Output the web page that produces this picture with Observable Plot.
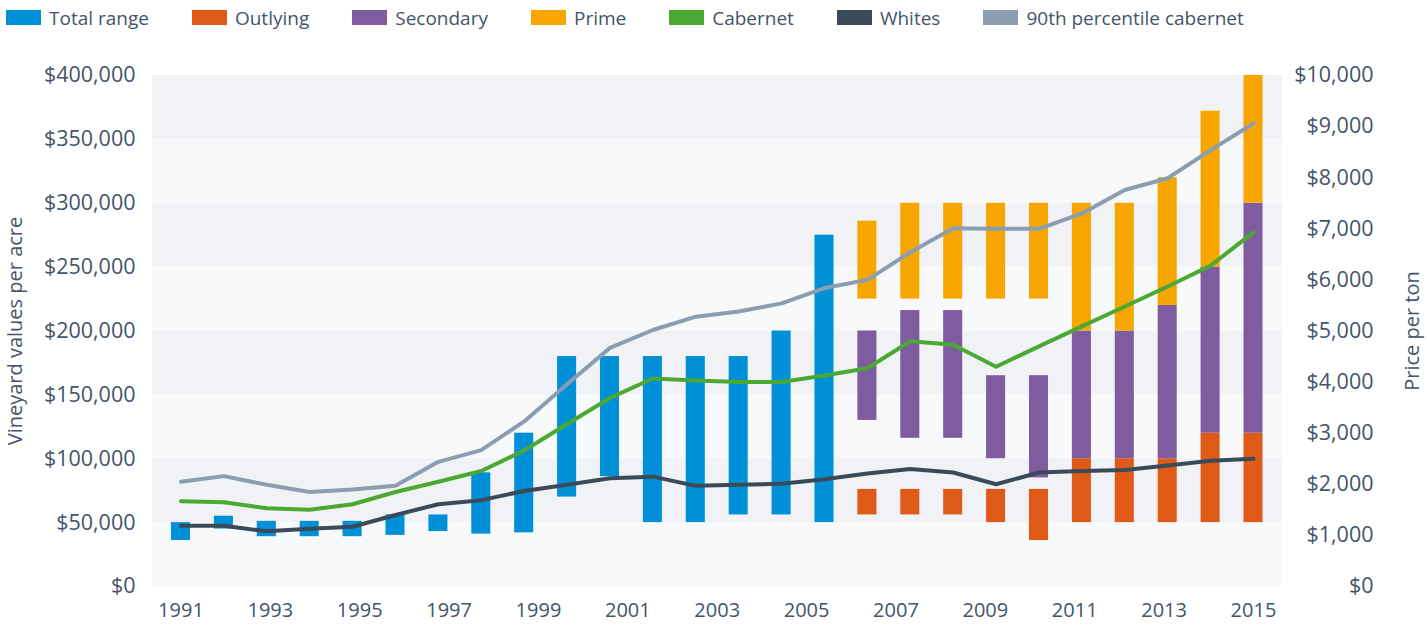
<!DOCTYPE html>
<html><head><meta charset="utf-8">
<script src="https://cdn.jsdelivr.net/npm/d3@7"></script>
<script src="https://cdn.jsdelivr.net/npm/@observablehq/plot@0.6"></script>
<style>
body{margin:0;background:#fff;font-family:"Open Sans",sans-serif;color:#44546a;}
#legend{display:flex;height:35px;align-items:center;padding-left:6px;font-size:19px;white-space:nowrap;}
.item{display:flex;align-items:center;margin-right:43px;}
.sw{width:35px;height:15px;margin-right:8px;}
</style></head><body>
<div id="legend"></div><div id="chart"></div>
<script>
// ---- data ----
const periods = [0,1,2,3,4,5,6,7,8,9,10,11,12,13,14,15,16,17,18,19,20,21,22,23,24,25];
const xLabels = [1991,1993,1995,1997,1999,2001,2003,2005,2007,2009,2011,2013,2015];
// vineyard values per acre ($) — floating ranges
const totalLow  = [36000,45000,39000,39000,39000,40000,43000,41000,42000,70000,86000,50000,50000,56000,56000,50000,null,null,null,null,null,null,null,null,null,null];
const totalHigh = [50000,55000,51000,51000,51000,56000,56000,89000,120000,180000,180000,180000,180000,180000,200000,275000,null,null,null,null,null,null,null,null,null,null];
const outLow  = [null,null,null,null,null,null,null,null,null,null,null,null,null,null,null,null,56000,56000,56000,50000,36000,50000,50000,50000,50000,50000];
const outHigh = [null,null,null,null,null,null,null,null,null,null,null,null,null,null,null,null,76000,76000,76000,76000,76000,100000,100000,100000,120000,120000];
const secLow  = [null,null,null,null,null,null,null,null,null,null,null,null,null,null,null,null,130000,116000,116000,100000,85000,100000,100000,100000,120000,120000];
const secHigh = [null,null,null,null,null,null,null,null,null,null,null,null,null,null,null,null,200000,216000,216000,165000,165000,200000,200000,220000,250000,300000];
const primeLow  = [null,null,null,null,null,null,null,null,null,null,null,null,null,null,null,null,225000,225000,225000,225000,225000,200000,200000,220000,250000,300000];
const primeHigh = [null,null,null,null,null,null,null,null,null,null,null,null,null,null,null,null,286000,300000,300000,300000,300000,300000,300000,320000,372000,400000];
// price per ton ($)
const cabernet = [1670,1650,1530,1500,1610,1850,2050,2260,2660,3180,3690,4070,4030,4000,4000,4130,4270,4800,4730,4300,4700,5090,5480,5870,6280,6930];
const whites   = [1190,1190,1080,1130,1170,1400,1610,1690,1870,1990,2120,2150,1970,1990,2010,2100,2210,2300,2230,2000,2230,2260,2280,2370,2460,2500];
const p90cab   = [2050,2160,1990,1850,1900,1970,2440,2670,3230,3960,4670,5020,5280,5380,5540,5840,6000,6540,7010,7000,7000,7300,7760,7990,8540,9060];
const acreTicks = [0,50000,100000,150000,200000,250000,300000,350000,400000];
const tonTicks  = [0,1000,2000,3000,4000,5000,6000,7000,8000,9000,10000];
const tonRatio = 40; // $400,000 per acre axis <-> $10,000 per ton axis

const COL = {total:"#0090d8", out:"#e05a17", sec:"#7f5ba0", prime:"#f7a600", cab:"#4ba833", whites:"#3b4a58", p90:"#8b9db1"};
const legendItems = [["Total range",COL.total],["Outlying",COL.out],["Secondary",COL.sec],["Prime",COL.prime],["Cabernet",COL.cab],["Whites",COL.whites],["90th percentile cabernet",COL.p90]];

// ---- legend ----
const lg = document.getElementById("legend");
for (const [name,c] of legendItems) {
  const it = document.createElement("div"); it.className="item";
  it.innerHTML = `<span class="sw" style="background:${c}"></span><span>${name}</span>`;
  lg.appendChild(it);
}

// ---- tables ----
const rangeRows = (lo,hi) => periods.map((p,i)=>({p, lo:lo[i], hi:hi[i]})).filter(d=>d.lo!=null);
const lineRows = (vals) => periods.map((p,i)=>({p, v:vals[i]*tonRatio}));
const bands = acreTicks.slice(0,-1).map((v,i)=>({lo:v, hi:acreTicks[i+1], dark:i%2===1}));
const half = 0.222;
const bar = (rows, fill) => Plot.rectY(rows, {x1:d=>d.p-half, x2:d=>d.p+half, y1:"lo", y2:"hi", fill});
const line = (vals, stroke) => Plot.line(lineRows(vals), {x:"p", y:"v", stroke, strokeWidth:4});
const fmt = d3.format(",");
const first = xLabels[0], last = xLabels[xLabels.length-1], n = periods.length-1;

const chart = Plot.plot({
  width:1427, height:591,
  marginTop:40, marginBottom:40, marginLeft:152, marginRight:145,
  style:{fontFamily:"Open Sans, sans-serif", fontSize:"20px", color:"#44546a", background:"white", overflow:"visible"},
  x:{type:"linear", domain:[-0.664,25.676]},
  y:{domain:[0,400000]},
  marks:[
    Plot.rectY(bands.filter(d=>d.dark), {y1:"lo", y2:"hi", fill:"#f1f2f6"}),
    Plot.rectY(bands.filter(d=>!d.dark), {y1:"lo", y2:"hi", fill:"#f8f9fb"}),
    bar(rangeRows(totalLow,totalHigh), COL.total),
    bar(rangeRows(outLow,outHigh), COL.out),
    bar(rangeRows(secLow,secHigh), COL.sec),
    bar(rangeRows(primeLow,primeHigh), COL.prime),
    line(p90cab, COL.p90),
    line(cabernet, COL.cab),
    line(whites, COL.whites),
    Plot.axisX(xLabels.map(y=>(y-first)*n/(last-first)),
      {tickSize:0, tickPadding:16, label:null, tickFormat:d=>String(Math.round(first+d*(last-first)/n))}),
    Plot.axisY(acreTicks, {anchor:"left", tickSize:0, tickPadding:17, fontSize:"21.5px", tickFormat:d=>"$"+fmt(d), label:null}),
    Plot.axisY({anchor:"left", ticks:[], label:"Vineyard values per acre", labelAnchor:"center", labelArrow:"none", labelOffset:145}),
    Plot.axisY(tonTicks.map(d=>d*tonRatio), {anchor:"right", tickSize:0, tickPadding:91, textAnchor:"end", fontSize:"21.5px", tickFormat:d=>"$"+fmt(d/tonRatio), label:null}),
    Plot.axisY({anchor:"right", ticks:[], label:"Price per ton", labelAnchor:"center", labelArrow:"none", labelOffset:136})
  ]
});
document.getElementById("chart").appendChild(chart);
</script></body></html>
